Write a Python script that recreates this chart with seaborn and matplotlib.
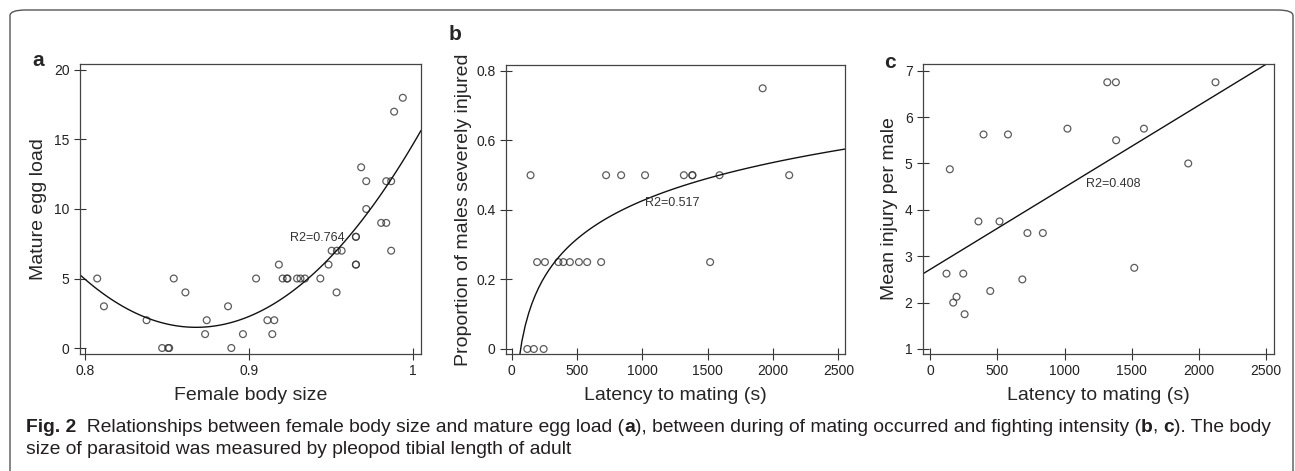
import numpy as np
import pandas as pd
import matplotlib
matplotlib.use('Agg')
import matplotlib.pyplot as plt
import seaborn as sns
from matplotlib.patches import FancyBboxPatch

# panel a: female body size vs mature egg load
body_size = [0.8075, 0.8116, 0.8376, 0.8471, 0.8508, 0.8514, 0.8542, 0.8613, 0.8733, 0.8743,
             0.8873, 0.8893, 0.8964, 0.9044, 0.9113, 0.9155, 0.9143, 0.9183, 0.9206, 0.9232,
             0.9236, 0.9294, 0.9315, 0.9342, 0.9436, 0.9486, 0.9505, 0.9537, 0.9566, 0.9535,
             0.9653, 0.9653, 0.9653, 0.9653, 0.9685, 0.9716, 0.9716, 0.9807, 0.9838, 0.9838,
             0.9868, 0.9868, 0.9886, 0.9939]
egg_load = [5, 3, 2, 0, 0, 0, 5, 4, 1, 2,
            3, 0, 1, 5, 2, 2, 1, 6, 5, 5,
            5, 5, 5, 5, 5, 6, 7, 7, 7, 4,
            8, 8, 6, 6, 13, 12, 10, 9, 9, 12,
            12, 7, 17, 18]

# panels b and c: latency to mating (same males)
latency = [120, 145, 170, 195, 245, 255, 358, 396, 446, 515, 578,
           685, 723, 838, 1021, 1318, 1382, 1384, 1519, 1591, 1921, 2124]
prop_injured = [0, 0.5, 0, 0.25, 0, 0.25, 0.25, 0.25, 0.25, 0.25, 0.25,
                0.25, 0.5, 0.5, 0.5, 0.5, 0.5, 0.5, 0.25, 0.5, 0.75, 0.5]
mean_injury = [2.625, 4.875, 2.0, 2.125, 2.625, 1.75, 3.75, 5.625, 2.25, 3.75, 5.625,
               2.5, 3.5, 3.5, 5.75, 6.75, 6.75, 5.5, 2.75, 5.75, 5.0, 6.75]

r2_labels = ['R2=0.764', 'R2=0.517', 'R2=0.408']

df_a = pd.DataFrame({'size': body_size, 'eggs': egg_load})
df_bc = pd.DataFrame({'latency': latency, 'prop': prop_injured, 'injury': mean_injury})

sns.set_style('white')
plt.rcParams['font.family'] = ['Liberation Sans', 'DejaVu Sans']

W, H = 1295, 471
fig = plt.figure(figsize=(W / 100, H / 100), dpi=100)

def px_axes(x0, y0, x1, y1):
    return fig.add_axes([x0 / W, 1 - y1 / H, (x1 - x0) / W, (y1 - y0) / H])

scat = dict(facecolors='none', edgecolors='#333333', s=24, linewidths=0.9)
line = dict(color='#111111', lw=1.0)

def style(ax):
    for sp in ax.spines.values():
        sp.set_visible(True)
        sp.set_color('#444444')
        sp.set_linewidth(0.9)
    ax.tick_params(direction='inout', length=9, width=0.8, color='#333333',
                   labelsize=10, labelcolor='#222222', pad=3,
                   left=True, bottom=True)

# ---- a
ax1 = px_axes(80, 64, 421, 354)
ax1.set_xlim(0.797, 1.005)
ax1.set_ylim(-0.43, 20.43)
sns.regplot(data=df_a, x='size', y='eggs', order=2, ci=None, truncate=False,
            scatter_kws=scat, line_kws=line, ax=ax1)
ax1.set_xlim(0.797, 1.005)
ax1.set_ylim(-0.43, 20.43)
ax1.set_xticks([0.8, 0.9, 1.0], ['0.8', '0.9', '1'])
ax1.set_yticks([0, 5, 10, 15, 20])
ax1.set_xlabel('Female body size', fontsize=14, labelpad=6)
ax1.set_ylabel('Mature egg load', fontsize=14, labelpad=5)
ax1.text(0.9253, 7.9, r2_labels[0], fontsize=9, color='#333333', va='center')
style(ax1)

# ---- b
ax2 = px_axes(506, 65, 845, 354)
ax2.set_xlim(1, 2551)
ax2.set_ylim(-0.0144, 0.817)
sns.regplot(data=df_bc, x='latency', y='prop', logx=True, ci=None, truncate=False,
            scatter_kws=scat, line_kws=line, ax=ax2)
ax2.set_xlim(-43, 2551)
ax2.set_ylim(-0.0144, 0.817)
ax2.set_xticks([0, 500, 1000, 1500, 2000, 2500])
ax2.set_yticks([0, 0.2, 0.4, 0.6, 0.8], ['0', '0.2', '0.4', '0.6', '0.8'])
ax2.set_xlabel('Latency to mating (s)', fontsize=14, labelpad=6)
ax2.set_ylabel('Proportion of males severely injured', fontsize=14, labelpad=3)
ax2.text(1023, 0.421, r2_labels[1], fontsize=9, color='#333333', va='center')
style(ax2)

# ---- c
ax3 = px_axes(923, 64, 1274, 354)
ax3.set_xlim(-55, 2560)
ax3.set_ylim(0.892, 7.144)
sns.regplot(data=df_bc, x='latency', y='injury', ci=None, truncate=False,
            scatter_kws=scat, line_kws=line, ax=ax3)
ax3.set_xlim(-55, 2560)
ax3.set_ylim(0.892, 7.144)
ax3.set_xticks([0, 500, 1000, 1500, 2000, 2500])
ax3.set_yticks([1, 2, 3, 4, 5, 6, 7])
ax3.set_xlabel('Latency to mating (s)', fontsize=14, labelpad=6)
ax3.set_ylabel('Mean injury per male', fontsize=14, labelpad=5)
ax3.text(1158, 4.55, r2_labels[2], fontsize=9, color='#333333', va='center')
style(ax3)

# panel letters
for s, (x, y) in zip(['a', 'b', 'c'], [(38, 60), (455, 35), (890, 62)]):
    fig.text(x / W, 1 - y / H, s, fontsize=15, fontweight='bold', ha='center', va='center')

# rounded frame
frame = FancyBboxPatch((10 / W, -20 / H), 1283 / W, 481 / H,
                       boxstyle='round,pad=0,rounding_size=0.012',
                       transform=fig.transFigure, fill=False,
                       edgecolor='#555555', lw=1.0, clip_on=False)
fig.patches.append(frame)

# caption with bold pieces
renderer = fig.canvas.get_renderer()
cap_lines = [
    (432, [('Fig. 2', 'bold'),
           ('  Relationships between female body size and mature egg load (', 'normal'),
           ('a', 'bold'),
           ('), between during of mating occurred and fighting intensity (', 'normal'),
           ('b', 'bold'), (', ', 'normal'), ('c', 'bold'), ('). The body', 'normal')]),
    (454, [('size of parasitoid was measured by pleopod tibial length of adult', 'normal')]),
]
for yb, pieces in cap_lines:
    x = 26 / W
    for s, wgt in pieces:
        t = fig.text(x, 1 - yb / H, s, fontsize=13.9, fontweight=wgt,
                     color='#231f20', va='baseline', ha='left')
        bb = t.get_window_extent(renderer)
        x += bb.width / fig.bbox.width

fig.savefig('out.png', dpi=100)
